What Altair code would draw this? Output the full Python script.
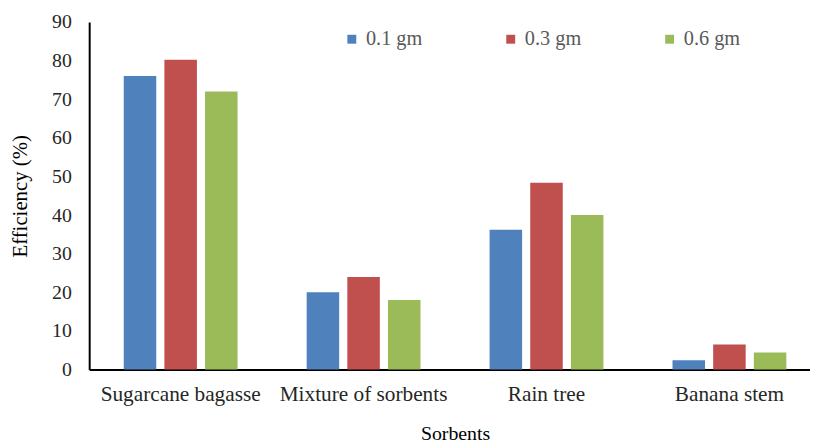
import altair as alt
import pandas as pd

categories = ["Sugarcane bagasse", "Mixture of sorbents", "Rain tree", "Banana stem"]
series = ["0.1 gm", "0.3 gm", "0.6 gm"]
dose_01 = [76.0, 20.0, 36.2, 2.4]
dose_03 = [80.2, 24.0, 48.4, 6.5]
dose_06 = [72.0, 18.0, 40.0, 4.4]
colors = ["#4F81BD", "#C0504D", "#9BBB59"]
y_ticks = [0, 10, 20, 30, 40, 50, 60, 70, 80, 90]

rows = []
for name, vals in zip(series, [dose_01, dose_03, dose_06]):
    for c, v in zip(categories, vals):
        rows.append({"Sorbent": c, "Dose": name, "Efficiency": v})
df = pd.DataFrame(rows)

FONT = "'Liberation Serif', 'Times New Roman', 'DejaVu Serif', serif"

chart = alt.Chart(df).mark_bar().encode(
    x=alt.X(
        "Sorbent:N",
        sort=categories,
        title="Sorbents",
        scale=alt.Scale(range=[0, 739], paddingInner=0, paddingOuter=0),
        axis=alt.Axis(
            labelAngle=0, ticks=False, domainColor="#000000", domainWidth=2,
            labelFont=FONT, labelFontSize=21.5, labelColor="#262626", labelPadding=14,
            titleFont=FONT, titleFontSize=20, titleFontWeight="normal", titleColor="#000000",
            titlePadding=19,
        ),
    ),
    xOffset=alt.XOffset(
        "Dose:N", sort=series,
        scale=alt.Scale(paddingInner=0.2, paddingOuter=0.85),
    ),
    y=alt.Y(
        "Efficiency:Q",
        title="Efficiency (%)",
        scale=alt.Scale(domain=[0, 90], nice=False),
        axis=alt.Axis(
            values=y_ticks, grid=False, ticks=False, domainColor="#000000", domainWidth=2,
            labelFont=FONT, labelFontSize=20, labelColor="#262626", labelPadding=18,
            titleFont=FONT, titleFontSize=21, titleFontWeight="normal", titleColor="#000000",
            titlePadding=21,
        ),
    ),
    color=alt.Color(
        "Dose:N", sort=series,
        scale=alt.Scale(domain=series, range=colors),
        legend=alt.Legend(
            title=None, orient="none", legendX=255, legendY=7, direction="horizontal",
            columns=3, columnPadding=78.5, symbolType="square", symbolSize=81,
            symbolStrokeWidth=0, labelFont=FONT, labelFontSize=20.5, labelColor="#595959",
            labelOffset=4,
        ),
    ),
).properties(
    width=728,
    height=351,
    autosize=alt.AutoSizeParams(type="none"),
    padding={"left": 82, "top": 12, "right": 0, "bottom": 72},
).configure_view(stroke=None)

chart.save("out.html", embed_options={"renderer": "svg", "actions": False})
